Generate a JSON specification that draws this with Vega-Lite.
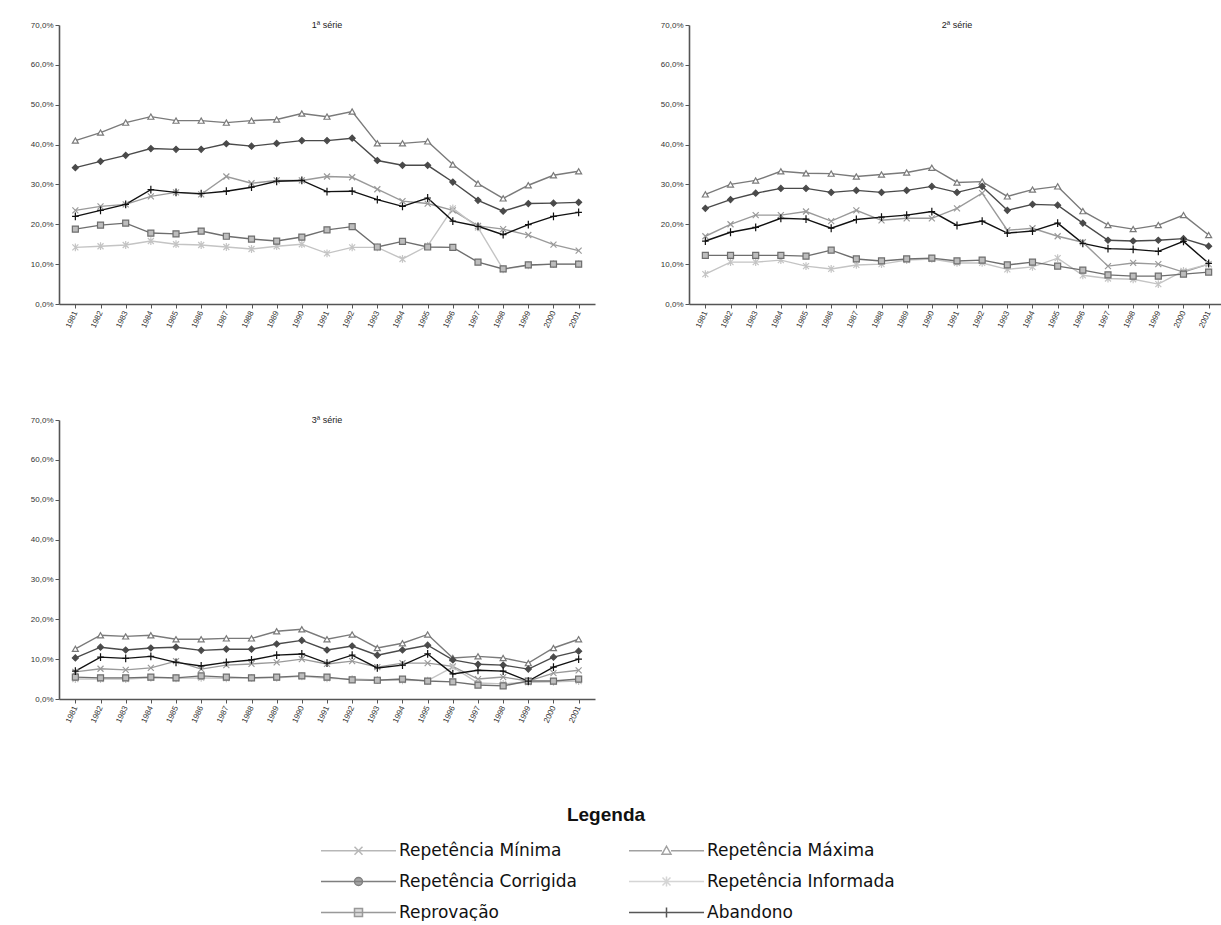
{
  "$schema": "https://vega.github.io/schema/vega-lite/v6.json",
  "padding": {"left": 30, "top": 21, "right": 0, "bottom": 0},
  "background": "white",
  "datasets": {
    "taxas": [
      {"p":"1ª série","ano":"1981","Repetência Mínima":23.5,"Repetência Máxima":41,"Repetência Corrigida":34.2,"Repetência Informada":14.2,"Reprovação":18.8,"Abandono":22},
      {"p":"1ª série","ano":"1982","Repetência Mínima":24.5,"Repetência Máxima":43,"Repetência Corrigida":35.8,"Repetência Informada":14.5,"Reprovação":19.8,"Abandono":23.5},
      {"p":"1ª série","ano":"1983","Repetência Mínima":25,"Repetência Máxima":45.5,"Repetência Corrigida":37.3,"Repetência Informada":14.8,"Reprovação":20.3,"Abandono":25},
      {"p":"1ª série","ano":"1984","Repetência Mínima":27,"Repetência Máxima":47,"Repetência Corrigida":39,"Repetência Informada":15.8,"Reprovação":17.8,"Abandono":28.7},
      {"p":"1ª série","ano":"1985","Repetência Mínima":28,"Repetência Máxima":46,"Repetência Corrigida":38.8,"Repetência Informada":15,"Reprovação":17.6,"Abandono":28},
      {"p":"1ª série","ano":"1986","Repetência Mínima":27.5,"Repetência Máxima":46,"Repetência Corrigida":38.8,"Repetência Informada":14.8,"Reprovação":18.3,"Abandono":27.7},
      {"p":"1ª série","ano":"1987","Repetência Mínima":32,"Repetência Máxima":45.5,"Repetência Corrigida":40.2,"Repetência Informada":14.3,"Reprovação":17,"Abandono":28.3},
      {"p":"1ª série","ano":"1988","Repetência Mínima":30.3,"Repetência Máxima":46,"Repetência Corrigida":39.6,"Repetência Informada":13.8,"Reprovação":16.3,"Abandono":29.3},
      {"p":"1ª série","ano":"1989","Repetência Mínima":31,"Repetência Máxima":46.3,"Repetência Corrigida":40.3,"Repetência Informada":14.5,"Reprovação":15.8,"Abandono":30.8},
      {"p":"1ª série","ano":"1990","Repetência Mínima":31,"Repetência Máxima":47.8,"Repetência Corrigida":41,"Repetência Informada":15,"Reprovação":16.8,"Abandono":31},
      {"p":"1ª série","ano":"1991","Repetência Mínima":32,"Repetência Máxima":47,"Repetência Corrigida":41,"Repetência Informada":12.7,"Reprovação":18.6,"Abandono":28.2},
      {"p":"1ª série","ano":"1992","Repetência Mínima":31.8,"Repetência Máxima":48.3,"Repetência Corrigida":41.6,"Repetência Informada":14.2,"Reprovação":19.4,"Abandono":28.3},
      {"p":"1ª série","ano":"1993","Repetência Mínima":28.8,"Repetência Máxima":40.3,"Repetência Corrigida":36,"Repetência Informada":14.2,"Reprovação":14.3,"Abandono":26.2},
      {"p":"1ª série","ano":"1994","Repetência Mínima":25.8,"Repetência Máxima":40.3,"Repetência Corrigida":34.8,"Repetência Informada":11.3,"Reprovação":15.7,"Abandono":24.5},
      {"p":"1ª série","ano":"1995","Repetência Mínima":25.2,"Repetência Máxima":40.8,"Repetência Corrigida":34.8,"Repetência Informada":14.6,"Reprovação":14.3,"Abandono":26.6},
      {"p":"1ª série","ano":"1996","Repetência Mínima":23.5,"Repetência Máxima":35,"Repetência Corrigida":30.6,"Repetência Informada":24,"Reprovação":14.2,"Abandono":20.8},
      {"p":"1ª série","ano":"1997","Repetência Mínima":19.6,"Repetência Máxima":30.2,"Repetência Corrigida":26,"Repetência Informada":19.2,"Reprovação":10.5,"Abandono":19.5},
      {"p":"1ª série","ano":"1998","Repetência Mínima":18.8,"Repetência Máxima":26.5,"Repetência Corrigida":23.3,"Repetência Informada":8.7,"Reprovação":8.8,"Abandono":17.4},
      {"p":"1ª série","ano":"1999","Repetência Mínima":17.3,"Repetência Máxima":29.8,"Repetência Corrigida":25.2,"Repetência Informada":9.7,"Reprovação":9.8,"Abandono":19.9},
      {"p":"1ª série","ano":"2000","Repetência Mínima":14.9,"Repetência Máxima":32.3,"Repetência Corrigida":25.3,"Repetência Informada":10,"Reprovação":10,"Abandono":22},
      {"p":"1ª série","ano":"2001","Repetência Mínima":13.4,"Repetência Máxima":33.3,"Repetência Corrigida":25.5,"Repetência Informada":10,"Reprovação":10,"Abandono":23},

      {"p":"2ª série","ano":"1981","Repetência Mínima":17,"Repetência Máxima":27.5,"Repetência Corrigida":24,"Repetência Informada":7.5,"Reprovação":12.2,"Abandono":15.8},
      {"p":"2ª série","ano":"1982","Repetência Mínima":20,"Repetência Máxima":30,"Repetência Corrigida":26.2,"Repetência Informada":10.5,"Reprovação":12.2,"Abandono":18},
      {"p":"2ª série","ano":"1983","Repetência Mínima":22.3,"Repetência Máxima":31,"Repetência Corrigida":27.8,"Repetência Informada":10.5,"Reprovação":12.2,"Abandono":19.2},
      {"p":"2ª série","ano":"1984","Repetência Mínima":22.3,"Repetência Máxima":33.3,"Repetência Corrigida":29,"Repetência Informada":11,"Reprovação":12.2,"Abandono":21.5},
      {"p":"2ª série","ano":"1985","Repetência Mínima":23.2,"Repetência Máxima":32.8,"Repetência Corrigida":29,"Repetência Informada":9.5,"Reprovação":12,"Abandono":21.3},
      {"p":"2ª série","ano":"1986","Repetência Mínima":20.8,"Repetência Máxima":32.7,"Repetência Corrigida":28,"Repetência Informada":8.8,"Reprovação":13.5,"Abandono":19},
      {"p":"2ª série","ano":"1987","Repetência Mínima":23.5,"Repetência Máxima":32,"Repetência Corrigida":28.5,"Repetência Informada":9.8,"Reprovação":11.3,"Abandono":21.2},
      {"p":"2ª série","ano":"1988","Repetência Mínima":21,"Repetência Máxima":32.5,"Repetência Corrigida":28,"Repetência Informada":10,"Reprovação":10.8,"Abandono":21.8},
      {"p":"2ª série","ano":"1989","Repetência Mínima":21.5,"Repetência Máxima":33,"Repetência Corrigida":28.5,"Repetência Informada":11,"Reprovação":11.3,"Abandono":22.3},
      {"p":"2ª série","ano":"1990","Repetência Mínima":21.5,"Repetência Máxima":34.2,"Repetência Corrigida":29.5,"Repetência Informada":11.3,"Reprovação":11.5,"Abandono":23.2},
      {"p":"2ª série","ano":"1991","Repetência Mínima":24,"Repetência Máxima":30.5,"Repetência Corrigida":28,"Repetência Informada":10.3,"Reprovação":10.8,"Abandono":19.7},
      {"p":"2ª série","ano":"1992","Repetência Mínima":27.8,"Repetência Máxima":30.7,"Repetência Corrigida":29.5,"Repetência Informada":10.3,"Reprovação":11,"Abandono":20.8},
      {"p":"2ª série","ano":"1993","Repetência Mínima":18.5,"Repetência Máxima":27,"Repetência Corrigida":23.5,"Repetência Informada":8.7,"Reprovação":9.8,"Abandono":17.8},
      {"p":"2ª série","ano":"1994","Repetência Mínima":19,"Repetência Máxima":28.7,"Repetência Corrigida":25,"Repetência Informada":9.3,"Reprovação":10.5,"Abandono":18.3},
      {"p":"2ª série","ano":"1995","Repetência Mínima":17,"Repetência Máxima":29.5,"Repetência Corrigida":24.8,"Repetência Informada":11.5,"Reprovação":9.5,"Abandono":20.3},
      {"p":"2ª série","ano":"1996","Repetência Mínima":15.5,"Repetência Máxima":23.3,"Repetência Corrigida":20.3,"Repetência Informada":7.2,"Reprovação":8.5,"Abandono":15.2},
      {"p":"2ª série","ano":"1997","Repetência Mínima":9.5,"Repetência Máxima":19.8,"Repetência Corrigida":16,"Repetência Informada":6.4,"Reprovação":7.3,"Abandono":13.9},
      {"p":"2ª série","ano":"1998","Repetência Mínima":10.3,"Repetência Máxima":18.8,"Repetência Corrigida":15.8,"Repetência Informada":6.2,"Reprovação":7,"Abandono":13.7},
      {"p":"2ª série","ano":"1999","Repetência Mínima":10,"Repetência Máxima":19.8,"Repetência Corrigida":16,"Repetência Informada":5,"Reprovação":7,"Abandono":13.2},
      {"p":"2ª série","ano":"2000","Repetência Mínima":8,"Repetência Máxima":22.3,"Repetência Corrigida":16.4,"Repetência Informada":8.3,"Reprovação":7.5,"Abandono":15.7},
      {"p":"2ª série","ano":"2001","Repetência Mínima":10,"Repetência Máxima":17.3,"Repetência Corrigida":14.5,"Repetência Informada":10,"Reprovação":8,"Abandono":10.2},

      {"p":"3ª série","ano":"1981","Repetência Mínima":6.8,"Repetência Máxima":12.6,"Repetência Corrigida":10.3,"Repetência Informada":5,"Reprovação":5.5,"Abandono":7},
      {"p":"3ª série","ano":"1982","Repetência Mínima":7.6,"Repetência Máxima":16,"Repetência Corrigida":13,"Repetência Informada":5,"Reprovação":5.3,"Abandono":10.5},
      {"p":"3ª série","ano":"1983","Repetência Mínima":7.3,"Repetência Máxima":15.7,"Repetência Corrigida":12.3,"Repetência Informada":5,"Reprovação":5.3,"Abandono":10.2},
      {"p":"3ª série","ano":"1984","Repetência Mínima":7.8,"Repetência Máxima":16,"Repetência Corrigida":12.8,"Repetência Informada":5.3,"Reprovação":5.5,"Abandono":10.7},
      {"p":"3ª série","ano":"1985","Repetência Mínima":9.5,"Repetência Máxima":15,"Repetência Corrigida":13,"Repetência Informada":5.2,"Reprovação":5.3,"Abandono":9.2},
      {"p":"3ª série","ano":"1986","Repetência Mínima":7.5,"Repetência Máxima":15,"Repetência Corrigida":12.2,"Repetência Informada":5.3,"Reprovação":5.8,"Abandono":8.3},
      {"p":"3ª série","ano":"1987","Repetência Mínima":8.5,"Repetência Máxima":15.2,"Repetência Corrigida":12.5,"Repetência Informada":5.2,"Reprovação":5.5,"Abandono":9.2},
      {"p":"3ª série","ano":"1988","Repetência Mínima":8.8,"Repetência Máxima":15.2,"Repetência Corrigida":12.5,"Repetência Informada":5.3,"Reprovação":5.3,"Abandono":9.8},
      {"p":"3ª série","ano":"1989","Repetência Mínima":9.2,"Repetência Máxima":17,"Repetência Corrigida":13.8,"Repetência Informada":5.3,"Reprovação":5.5,"Abandono":11},
      {"p":"3ª série","ano":"1990","Repetência Mínima":10,"Repetência Máxima":17.5,"Repetência Corrigida":14.7,"Repetência Informada":5.7,"Reprovação":5.8,"Abandono":11.3},
      {"p":"3ª série","ano":"1991","Repetência Mínima":8.8,"Repetência Máxima":15,"Repetência Corrigida":12.3,"Repetência Informada":5.2,"Reprovação":5.5,"Abandono":9},
      {"p":"3ª série","ano":"1992","Repetência Mínima":9.5,"Repetência Máxima":16.2,"Repetência Corrigida":13.3,"Repetência Informada":5,"Reprovação":4.8,"Abandono":11},
      {"p":"3ª série","ano":"1993","Repetência Mínima":8,"Repetência Máxima":12.8,"Repetência Corrigida":11,"Repetência Informada":4.8,"Reprovação":4.7,"Abandono":7.8},
      {"p":"3ª série","ano":"1994","Repetência Mínima":9,"Repetência Máxima":14,"Repetência Corrigida":12.3,"Repetência Informada":4.7,"Reprovação":5,"Abandono":8.5},
      {"p":"3ª série","ano":"1995","Repetência Mínima":9,"Repetência Máxima":16.2,"Repetência Corrigida":13.5,"Repetência Informada":4.6,"Reprovação":4.5,"Abandono":11.3},
      {"p":"3ª série","ano":"1996","Repetência Mínima":8.2,"Repetência Máxima":10.3,"Repetência Corrigida":9.8,"Repetência Informada":8,"Reprovação":4.3,"Abandono":6.3},
      {"p":"3ª série","ano":"1997","Repetência Mínima":5,"Repetência Máxima":10.7,"Repetência Corrigida":8.7,"Repetência Informada":4,"Reprovação":3.5,"Abandono":7.2},
      {"p":"3ª série","ano":"1998","Repetência Mínima":5.5,"Repetência Máxima":10.3,"Repetência Corrigida":8.5,"Repetência Informada":3.8,"Reprovação":3.3,"Abandono":7},
      {"p":"3ª série","ano":"1999","Repetência Mínima":4.5,"Repetência Máxima":9,"Repetência Corrigida":7.5,"Repetência Informada":4.2,"Reprovação":4.5,"Abandono":4.5},
      {"p":"3ª série","ano":"2000","Repetência Mínima":6.5,"Repetência Máxima":12.8,"Repetência Corrigida":10.5,"Repetência Informada":4.3,"Reprovação":4.5,"Abandono":8},
      {"p":"3ª série","ano":"2001","Repetência Mínima":7.2,"Repetência Máxima":15,"Repetência Corrigida":12,"Repetência Informada":4.5,"Reprovação":5,"Abandono":10}
    ]
  },
  "data": {"name": "taxas"},
  "transform": [
    {"fold": ["Repetência Mínima","Repetência Máxima","Repetência Corrigida","Repetência Informada","Reprovação","Abandono"], "as": ["s","v"]}
  ],
  "spacing": 20,
  "resolve": {"scale": {"shape": "independent", "fill": "independent", "stroke": "independent"}},
  "vconcat": [
    {
      "facet": {
        "field": "p", "type": "nominal",
        "header": {"title": null, "labelFontSize": 9, "labelFont": "Liberation Sans", "labelColor": "#222", "labelPadding": -9}
      },
      "columns": 2,
      "spacing": {"row": 87, "column": 65},
      "resolve": {"axis": {"x": "independent", "y": "independent"}},
      "spec": {
        "width": 536,
        "height": 279,
        "encoding": {
          "x": {"field": "ano", "type": "ordinal", "title": null,
            "scale": {"type": "point", "padding": 0.65},
            "axis": {"labelAngle": -65, "labelFontSize": 8, "labelPadding": 3, "tickSize": 4}},
          "y": {"field": "v", "type": "quantitative", "title": null,
            "scale": {"domain": [0, 70], "nice": false},
            "axis": {"values": [0,10,20,30,40,50,60,70], "grid": false, "tickSize": 4, "labelFontSize": 8,
              "labelExpr": "replace(format(datum.value, '.1f'), '.', ',') + '%'"}}
        },
        "layer": [
          {
            "mark": {"type": "line", "strokeWidth": 1.4},
            "encoding": {
              "stroke": {"field": "s", "type": "nominal", "legend": null,
                "scale": {"domain": ["Repetência Mínima","Repetência Máxima","Repetência Corrigida","Repetência Informada","Reprovação","Abandono"],
                  "range": ["#9a9a9a","#7a7a7a","#4a4a4a","#c4c4c4","#6e6e6e","#111111"]}}
            }
          },
          {
            "mark": {"type": "point", "filled": true, "size": 36, "strokeWidth": 1.2, "opacity": 1},
            "encoding": {
              "stroke": {"field": "s", "type": "nominal", "legend": null},
              "fill": {"field": "s", "type": "nominal", "legend": null,
                "scale": {"domain": ["Repetência Mínima","Repetência Máxima","Repetência Corrigida","Repetência Informada","Reprovação","Abandono"],
                  "range": ["transparent","#ffffff","#4a4a4a","transparent","#bdbdbd","#111111"]}},
              "shape": {"field": "s", "type": "nominal", "legend": null,
                "scale": {"domain": ["Repetência Mínima","Repetência Máxima","Repetência Corrigida","Repetência Informada","Reprovação","Abandono"],
                  "range": ["M-1,-1L1,1M-1,1L1,-1","triangle-up","diamond","M-1,-1L1,1M-1,1L1,-1M0,-1.3V1.3","square","M-1.1,0H1.1M0,-1.3V1.3"]}}
            }
          }
        ]
      }
    },
    {
      "width": 600,
      "height": 1,
      "transform": [{"filter": "false"}],
      "mark": {"type": "point", "filled": true, "strokeWidth": 1.5},
      "encoding": {
        "stroke": {"field": "s", "type": "nominal", "title": "Legenda",
          "scale": {"domain": ["Repetência Mínima","Repetência Corrigida","Reprovação","Repetência Máxima","Repetência Informada","Abandono"],
            "range": ["#9a9a9a","#4a4a4a","#6e6e6e","#7a7a7a","#c4c4c4","#111111"]}},
        "fill": {"field": "s", "type": "nominal", "title": "Legenda",
          "scale": {"domain": ["Repetência Mínima","Repetência Corrigida","Reprovação","Repetência Máxima","Repetência Informada","Abandono"],
            "range": ["transparent","#4a4a4a","#bdbdbd","#ffffff","transparent","#111111"]}},
        "shape": {"field": "s", "type": "nominal", "title": "Legenda",
          "scale": {"domain": ["Repetência Mínima","Repetência Corrigida","Reprovação","Repetência Máxima","Repetência Informada","Abandono"],
            "range": ["M-7.5,0H7.5M-0.8,-0.8L0.8,0.8M-0.8,0.8L0.8,-0.8",
                      "M-7.5,0H7.5M-0.8,0A0.8,0.8 0 1,0 0.8,0A0.8,0.8 0 1,0 -0.8,0Z",
                      "M-7.5,0H7.5M-0.8,-0.8H0.8V0.8H-0.8Z",
                      "M-7.5,0H-0.9M0.9,0H7.5M0,-0.9L0.9,0.7H-0.9Z",
                      "M-7.5,0H7.5M-0.8,-0.8L0.8,0.8M-0.8,0.8L0.8,-0.8M0,-1V1",
                      "M-7.5,0H7.5M0,-1V1"]},
          "legend": {
            "orient": "none", "legendX": 258, "legendY": 62,
            "columns": 2, "columnPadding": 48, "rowPadding": 13,
            "symbolSize": 100, "symbolOffset": 33, "labelOffset": 32, "symbolStrokeWidth": 1.5,
            "labelFont": "DejaVu Sans", "labelFontSize": 17, "labelColor": "#111", "labelLimit": 400,
            "titleFont": "Liberation Sans", "titleFontSize": 19, "titleFontWeight": "bold", "titleColor": "#111",
            "titleAnchor": "middle", "titleAlign": "center", "titlePadding": 17
          }}
      }
    }
  ],
  "config": {
    "view": {"stroke": null},
    "font": "Liberation Sans",
    "axis": {"domainColor": "#555", "domainWidth": 1.6, "tickColor": "#555", "labelColor": "#333", "labelFont": "Liberation Sans"}
  }
}
